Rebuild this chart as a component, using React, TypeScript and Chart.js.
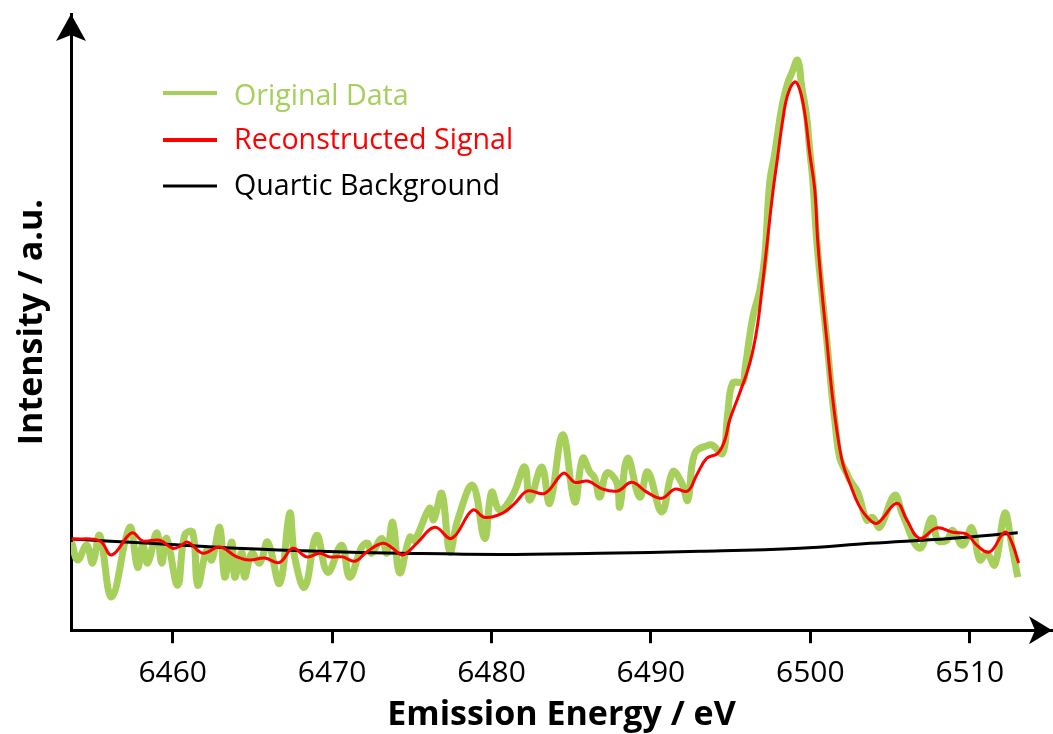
import { useEffect, useRef } from "react";
import { Chart, registerables } from "chart.js";

Chart.register(...registerables);

// ---------- data ----------
const origEnergy = [
  6453.66, 6454.04, 6454.6, 6454.98, 6455.42, 6456.17, 6457.3, 6457.8, 6458.12, 6458.43,
  6459.0, 6459.31, 6459.62, 6460.31, 6460.75, 6461.25, 6461.57, 6462.13, 6462.45, 6462.95,
  6463.26, 6463.7, 6463.89, 6464.33, 6464.52, 6464.96, 6465.46, 6465.96, 6466.71, 6467.34,
  6467.65, 6468.28, 6469.03, 6469.72, 6470.6, 6471.1, 6471.86, 6472.23, 6472.48, 6473.11,
  6473.43, 6473.8, 6474.24, 6474.87, 6475.18, 6476.12, 6476.37, 6476.88, 6477.38, 6477.88,
  6478.82, 6479.57, 6480.01, 6480.51, 6481.33, 6482.08, 6482.4, 6483.15, 6483.65, 6484.47,
  6485.22, 6485.72, 6486.16, 6486.47, 6486.79, 6487.23, 6487.85, 6488.04, 6488.54, 6489.3,
  6489.8, 6490.68, 6491.37, 6491.93, 6492.31, 6492.75, 6493.56, 6493.88, 6494.5, 6494.82,
  6495.13, 6495.76, 6495.89, 6496.39, 6496.83, 6497.14, 6497.45, 6497.77, 6498.21, 6498.58,
  6498.83, 6499.21, 6499.46, 6499.77, 6499.96, 6500.15, 6500.4, 6500.72, 6501.03, 6501.34,
  6501.53, 6501.85, 6502.28, 6502.47, 6502.97, 6503.54, 6503.91, 6504.35, 6505.29, 6505.8,
  6506.86, 6507.62, 6507.99, 6508.56, 6508.93, 6509.56, 6510.13, 6510.63, 6511.07, 6511.57,
  6512.2, 6512.63, 6513.01,
];
const origIntensity = [
  14.3, 11.4, 13.8, 10.9, 15.4, 5.4, 16.7, 10.2, 13.8, 10.9,
  15.8, 10.9, 14.9, 7.3, 15.4, 15.9, 7.3, 13.0, 11.4, 16.7,
  8.6, 14.3, 8.6, 12.7, 8.6, 12.5, 10.9, 14.3, 7.6, 19.0,
  11.9, 7.0, 15.4, 9.4, 13.8, 8.6, 13.5, 14.1, 12.5, 14.9,
  12.5, 17.5, 9.3, 15.1, 14.6, 19.8, 17.9, 22.2, 12.7, 17.9,
  23.5, 14.9, 22.4, 19.5, 21.9, 26.5, 21.1, 26.5, 20.6, 31.7,
  20.8, 27.9, 25.7, 24.7, 21.6, 25.5, 24.0, 20.0, 27.9, 21.6,
  25.7, 19.2, 25.7, 23.9, 21.1, 28.7, 30.0, 30.0, 28.7, 35.2,
  40.1, 40.3, 42.2, 50.8, 55.2, 60.6, 72.6, 77.4, 84.9, 88.8,
  90.4, 92.5, 88.2, 83.3, 77.9, 73.1, 63.3, 54.7, 47.1, 38.5,
  34.1, 27.9, 25.5, 24.4, 22.4, 17.9, 18.3, 16.7, 21.9, 18.7,
  13.3, 18.2, 14.6, 14.6, 16.2, 13.8, 16.6, 11.4, 12.5, 10.6,
  19.0, 13.8, 8.6,
];

const reconEnergy = [
  6453.66, 6455.42, 6456.17, 6457.43, 6458.12, 6459.18, 6460.0, 6460.44, 6460.94, 6461.88,
  6462.95, 6464.02, 6464.83, 6465.77, 6466.71, 6467.53, 6468.41, 6469.22, 6469.85, 6470.66,
  6471.42, 6472.17, 6473.17, 6473.8, 6474.43, 6475.31, 6476.44, 6477.5, 6478.82, 6479.57,
  6480.7, 6481.46, 6482.27, 6483.34, 6484.28, 6484.59, 6485.22, 6486.04, 6486.98, 6487.92,
  6488.8, 6489.74, 6490.68, 6491.49, 6492.31, 6492.87, 6493.5, 6494.19, 6494.63, 6494.94,
  6495.57, 6496.2, 6496.64, 6497.01, 6497.33, 6497.64, 6497.95, 6498.27, 6498.58, 6499.02,
  6499.34, 6499.65, 6499.96, 6500.28, 6500.46, 6500.72, 6501.03, 6501.34, 6501.66, 6502.03,
  6502.47, 6503.04, 6503.73, 6504.23, 6505.42, 6506.05, 6506.86, 6507.93, 6508.93, 6509.81,
  6510.44, 6511.25, 6512.2, 6512.63, 6513.07,
];
const reconIntensity = [
  14.8, 14.5, 12.2, 15.8, 14.5, 14.6, 13.3, 13.6, 14.3, 12.5,
  13.5, 11.9, 11.4, 11.7, 11.0, 13.3, 11.9, 12.5, 11.9, 11.9,
  11.2, 12.7, 14.1, 13.3, 12.2, 14.1, 16.7, 14.9, 19.5, 18.3,
  19.0, 20.6, 22.6, 22.2, 25.0, 25.5, 24.0, 24.2, 22.9, 22.6,
  24.0, 22.4, 21.4, 22.9, 22.6, 25.2, 27.9, 28.7, 30.8, 34.1,
  38.5, 43.3, 48.7, 56.3, 63.8, 70.9, 76.8, 82.8, 86.9, 89.0,
  87.7, 83.9, 77.4, 71.4, 63.3, 55.2, 47.1, 39.0, 32.5, 27.1,
  23.9, 20.3, 17.9, 17.4, 20.6, 17.9, 14.9, 16.6, 15.9, 15.6,
  13.8, 12.7, 15.9, 14.3, 10.9,
];

const bgEnergy = [6453.66, 6458.56, 6464.83, 6469.22, 6474.24, 6480.51, 6486.79, 6493.06, 6499.34, 6503.73, 6508.75, 6513.01];
const bgIntensity = [14.8, 14.1, 13.2, 12.8, 12.5, 12.3, 12.5, 12.8, 13.3, 14.1, 14.9, 15.8];

const xTickValues = [6460, 6470, 6480, 6490, 6500, 6510];
const seriesLabels = ["Original Data", "Reconstructed Signal", "Quartic Background"];
const seriesColors = ["#a6cf5b", "#ff0000", "#000000"];
const xTitle = "Emission Energy / eV";
const yTitle = "Intensity / a.u.";

const FONT = "'Open Sans', 'Noto Sans', sans-serif";

const toPoints = (xs: number[], ys: number[]) => xs.map((x, i) => ({ x, y: ys[i] }));

const arrowsPlugin = {
  id: "axisArrows",
  afterDraw(chart: any) {
    const { ctx, chartArea } = chart;
    const { left, top, right, bottom } = chartArea;
    ctx.save();
    ctx.fillStyle = "#000";
    // up arrow on y axis
    ctx.beginPath();
    ctx.moveTo(left, top);
    ctx.lineTo(left + 15, top + 27);
    ctx.lineTo(left, top + 21);
    ctx.lineTo(left - 15, top + 27);
    ctx.closePath();
    ctx.fill();
    // right arrow on x axis
    ctx.beginPath();
    ctx.moveTo(right, bottom);
    ctx.lineTo(right - 23, bottom - 14);
    ctx.lineTo(right - 17, bottom);
    ctx.lineTo(right - 23, bottom + 14);
    ctx.closePath();
    ctx.fill();
    ctx.restore();
  },
};

const legendPlugin = {
  id: "customLegend",
  afterDraw(chart: any) {
    const { ctx } = chart;
    const lineY = [93, 140, 186];
    const textY = [105, 149, 195];
    const widths = [4, 4, 3];
    ctx.save();
    ctx.font = `28.6px ${FONT}`;
    ctx.textBaseline = "alphabetic";
    ctx.textAlign = "left";
    seriesLabels.forEach((label, i) => {
      ctx.strokeStyle = seriesColors[i];
      ctx.lineWidth = widths[i];
      ctx.beginPath();
      ctx.moveTo(163, lineY[i]);
      ctx.lineTo(217, lineY[i]);
      ctx.stroke();
      ctx.fillStyle = seriesColors[i];
      ctx.fillText(label, 234, textY[i]);
    });
    ctx.restore();
  },
};

export default function App() {
  const canvasRef = useRef<HTMLCanvasElement | null>(null);

  useEffect(() => {
    if (!canvasRef.current) return;
    const chart = new Chart(canvasRef.current, {
      type: "line",
      data: {
        datasets: [
          {
            label: seriesLabels[1],
            data: toPoints(reconEnergy, reconIntensity),
            borderColor: seriesColors[1],
            borderWidth: 3,
            pointRadius: 0,
            tension: 0.4,
            order: 0,
          },
          {
            label: seriesLabels[2],
            data: toPoints(bgEnergy, bgIntensity),
            borderColor: seriesColors[2],
            borderWidth: 3,
            pointRadius: 0,
            tension: 0.4,
            order: 1,
          },
          {
            label: seriesLabels[0],
            data: toPoints(origEnergy, origIntensity),
            borderColor: seriesColors[0],
            borderWidth: 7,
            pointRadius: 0,
            tension: 0.4,
            order: 2,
          },
        ],
      },
      options: {
        responsive: false,
        animation: false,
        layout: { padding: { left: 11.6, top: 14, right: 1, bottom: 2 } },
        plugins: {
          legend: { display: false },
          tooltip: { enabled: false },
        },
        scales: {
          x: {
            type: "linear",
            min: 6453.62,
            max: 6515.16,
            afterBuildTicks: (scale: any) => {
              scale.ticks = xTickValues.map((v) => ({ value: v }));
            },
            ticks: {
              font: { family: FONT, size: 30 },
              color: "#000",
              padding: 12,
              maxRotation: 0,
              autoSkip: false,
              callback: (v: any) => String(v),
            },
            grid: {
              display: true,
              drawOnChartArea: false,
              drawTicks: true,
              tickLength: 13,
              color: "#000",
              lineWidth: 3,
            },
            border: { display: true, color: "#000", width: 3 },
            title: {
              display: true,
              text: xTitle,
              color: "#000",
              font: { family: FONT, size: 34, weight: "bold" },
              padding: { top: -8, bottom: -4 },
            },
          },
          y: {
            type: "linear",
            min: 0,
            max: 100,
            ticks: { display: false },
            grid: { display: false, drawTicks: false, tickLength: 0 },
            border: { display: true, color: "#000", width: 3 },
            title: {
              display: true,
              text: yTitle,
              color: "#000",
              font: { family: FONT, size: 34, weight: "bold" },
              padding: { top: 0, bottom: 18.6 },
            },
          },
        },
      },
      plugins: [arrowsPlugin, legendPlugin],
    } as any);
    return () => chart.destroy();
  }, []);

  return (
    <div style={{ position: "fixed", left: 0, top: 0, width: 1053, height: 734, background: "#fff" }}>
      <canvas ref={canvasRef} width={1053} height={734} style={{ display: "block" }} />
    </div>
  );
}
